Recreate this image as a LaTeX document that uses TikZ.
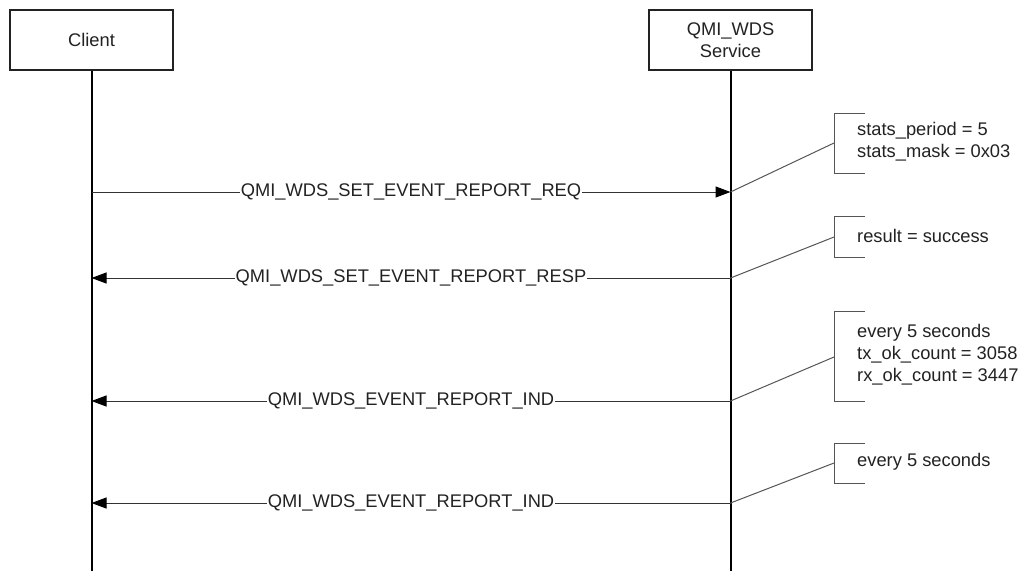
\documentclass[tikz,border=0pt]{standalone}
\usepackage{fontspec}
\setmainfont{Liberation Sans}
\usetikzlibrary{arrows.meta}
\definecolor{ink}{HTML}{222222}
\definecolor{msgc}{HTML}{333333}
\definecolor{notec}{HTML}{555555}
\begin{document}
\begin{tikzpicture}[x=1pt,y=-1pt,
  font=\fontsize{18.3}{22}\selectfont, text=ink,
  actor/.style={draw=ink, line width=2pt, minimum width=163pt, minimum height=60pt, align=center, fill=white},
  life/.style={draw=black, line width=2pt},
  msg/.style={draw=msgc, line width=1pt, -{Triangle[length=15pt,width=11pt,color=black,fill=black]}},
  lbl/.style={fill=white, inner sep=1pt},
  note/.style={draw=notec, line width=1pt},
  notetext/.style={anchor=west, align=left, inner sep=0pt}]
\useasboundingbox (0,0) rectangle (1025,571);

% actors
\node[actor] (client) at (91.5,40) {Client};
\node[actor] (svc) at (730.5,40) {QMI\_WDS\\Service};

% lifelines
\coordinate (cend) at (client.south |- 0,571);
\coordinate (send) at (svc.south |- 0,571);
\draw[life] (client.south) -- (cend);
\draw[life] (svc.south) -- (send);

% message points
\coordinate (c1) at (client.south |- 0,192);
\coordinate (s1) at (svc.south |- 0,192);
\coordinate (c2) at (client.south |- 0,278);
\coordinate (s2) at (svc.south |- 0,278);
\coordinate (c3) at (client.south |- 0,401);
\coordinate (s3) at (svc.south |- 0,401);
\coordinate (c4) at (client.south |- 0,503);
\coordinate (s4) at (svc.south |- 0,503);

% annotations: bracket coordinates
\coordinate (b1t) at (834,113); \coordinate (b1m) at (834,143); \coordinate (b1b) at (834,173);
\coordinate (b2t) at (834,216); \coordinate (b2m) at (834,237); \coordinate (b2b) at (834,257);
\coordinate (b3t) at (834,311); \coordinate (b3m) at (834,357); \coordinate (b3b) at (834,401);
\coordinate (b4t) at (834,443); \coordinate (b4m) at (834,463); \coordinate (b4b) at (834,483);

\foreach \i in {1,2,3,4}{
  \draw[note] ([xshift=31pt]b\i t) -- (b\i t) -- (b\i b) -- ([xshift=31pt]b\i b);
}
\draw[note] (s1) -- (b1m);
\draw[note] (s2) -- (b2m);
\draw[note] (s3) -- (b3m);
\draw[note] (s4) -- (b4m);

\node[notetext] (n1) at (857,142) {stats\_period = 5\\stats\_mask = 0x03};
\node[notetext] (n2) at (857,236) {result = success};
\node[notetext] (n3) at (857,355) {every 5 seconds\\tx\_ok\_count = 3058\\rx\_ok\_count = 3447};
\node[notetext] (n4) at (857,462) {every 5 seconds};

% messages
\draw[msg] (c1) -- node[lbl] (m1) {QMI\_WDS\_SET\_EVENT\_REPORT\_REQ} (s1);
\draw[msg] (s2) -- node[lbl] (m2) {QMI\_WDS\_SET\_EVENT\_REPORT\_RESP} (c2);
\draw[msg] (s3) -- node[lbl] (m3) {QMI\_WDS\_EVENT\_REPORT\_IND} (c3);
\draw[msg] (s4) -- node[lbl] (m4) {QMI\_WDS\_EVENT\_REPORT\_IND} (c4);
\end{tikzpicture}
\end{document}
